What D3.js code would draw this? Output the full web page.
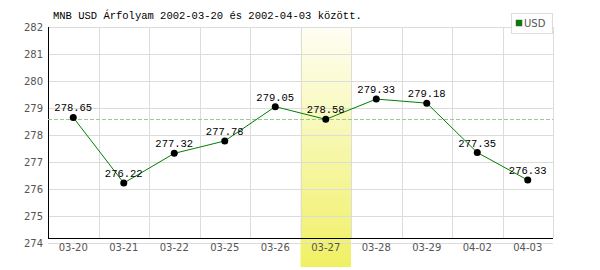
<!DOCTYPE html>
<html>
<head>
<meta charset="utf-8">
<script src="https://cdn.jsdelivr.net/npm/d3@7"></script>
<style>
  body { margin: 0; background: #fff; }
</style>
</head>
<body>
<div id="chart"></div>
<script>
// data
const dates = ["03-20", "03-21", "03-22", "03-25", "03-26", "03-27", "03-28", "03-29", "04-02", "04-03"];
const usdRates = [278.65, 276.22, 277.32, 277.78, 279.05, 278.58, 279.33, 279.18, 277.35, 276.33];
const yTicks = [274, 275, 276, 277, 278, 279, 280, 281, 282];
const highlightDate = "03-27";
const refRate = 278.58;
const titleText = "MNB USD Árfolyam 2002-03-20 és 2002-04-03 között.";
const seriesName = "USD";

const width = 600, height = 270;
const plotLeft = 48, plotRight = 553, plotTop = 27, plotBottom = 243;
const axisY = 238;

const svg = d3.select("#chart").append("svg")
  .attr("width", width).attr("height", height);

const defs = svg.append("defs");
const grad = defs.append("linearGradient").attr("id", "hl")
  .attr("x1", 0).attr("y1", 0).attr("x2", 0).attr("y2", 1);
grad.append("stop").attr("offset", "0%").attr("stop-color", "#fefef4");
grad.append("stop").attr("offset", "100%").attr("stop-color", "#f0f064");

let xScale = d3.scaleBand().domain(dates).range([plotLeft, plotRight]);
let yScale = d3.scaleLinear().domain([274, 282]).range([plotBottom, plotTop]);

// highlight band
svg.append("rect")
  .attr("x", xScale(highlightDate))
  .attr("y", plotTop)
  .attr("width", xScale.bandwidth())
  .attr("height", 267 - plotTop)
  .attr("fill", "url(#hl)");

// grid
svg.append("g").selectAll("line").data(yTicks).enter().append("line")
  .attr("x1", plotLeft).attr("x2", plotRight)
  .attr("y1", d => Math.round(yScale(d)) + 0.5)
  .attr("y2", d => Math.round(yScale(d)) + 0.5)
  .attr("stroke", "#dcdcdc");

svg.append("g").selectAll("line").data(dates).enter().append("line")
  .attr("x1", d => Math.round(xScale(d) + xScale.bandwidth()) + 0.5)
  .attr("x2", d => Math.round(xScale(d) + xScale.bandwidth()) + 0.5)
  .attr("y1", plotTop).attr("y2", axisY)
  .attr("stroke", "#dcdcdc");

// y labels
svg.append("g").selectAll("text").data(yTicks).enter().append("text")
  .attr("x", 43)
  .attr("y", d => yScale(d))
  .attr("dy", "0.35em")
  .attr("text-anchor", "end")
  .style("font", "10px 'DejaVu Sans'")
  .attr("fill", "#555")
  .text(d => d);

// x labels
svg.append("g").selectAll("text").data(dates).enter().append("text")
  .attr("x", d => xScale(d) + xScale.bandwidth() / 2)
  .attr("y", 251)
  .attr("text-anchor", "middle")
  .style("font", "10px 'DejaVu Sans'")
  .attr("fill", "#555")
  .text(d => d);

// axes lines
svg.append("line")
  .attr("x1", plotLeft + 0.5).attr("x2", plotLeft + 0.5)
  .attr("y1", plotTop).attr("y2", axisY)
  .attr("stroke", "#000");
svg.append("line")
  .attr("x1", plotLeft).attr("x2", plotRight)
  .attr("y1", axisY + 0.5).attr("y2", axisY + 0.5)
  .attr("stroke", "#000");

// reference dashed line
svg.append("line")
  .attr("x1", plotLeft).attr("x2", plotRight)
  .attr("y1", Math.round(yScale(refRate)) + 0.5)
  .attr("y2", Math.round(yScale(refRate)) + 0.5)
  .attr("stroke", "#99c899")
  .attr("stroke-dasharray", "4,2");

// line
const line = d3.line()
  .x((d, i) => xScale(dates[i]) + xScale.bandwidth() / 2)
  .y(d => yScale(d));
svg.append("path").datum(usdRates)
  .attr("d", line)
  .attr("fill", "none")
  .attr("stroke", "#008000")
  .attr("stroke-width", 1);

svg.append("g").selectAll("circle").data(usdRates).enter().append("circle")
  .attr("cx", (d, i) => xScale(dates[i]) + xScale.bandwidth() / 2)
  .attr("cy", d => yScale(d))
  .attr("r", 3.5)
  .attr("fill", "#000");

svg.append("g").selectAll("text").data(usdRates).enter().append("text")
  .attr("x", (d, i) => xScale(dates[i]) + xScale.bandwidth() / 2)
  .attr("y", d => yScale(d) - 6)
  .attr("text-anchor", "middle")
  .style("font", "10.5px 'Liberation Mono'")
  .attr("fill", "#000")
  .text(d => d.toFixed(2));

// title
svg.append("text")
  .attr("x", 53).attr("y", 19)
  .style("font", "10.5px 'Liberation Mono'")
  .attr("fill", "#000")
  .text(titleText);

// legend
svg.append("rect")
  .attr("x", 511.5).attr("y", 13.5)
  .attr("width", 41).attr("height", 20)
  .attr("fill", "#fff").attr("stroke", "#dcdcdc");
svg.append("rect")
  .attr("x", 516).attr("y", 20)
  .attr("width", 6).attr("height", 6)
  .attr("fill", "#008000").attr("stroke", "#555").attr("stroke-width", 0.5);
svg.append("text")
  .attr("x", 524).attr("y", 27)
  .style("font", "10px 'DejaVu Sans'")
  .attr("fill", "#555")
  .text(seriesName);
</script>
</body>
</html>
